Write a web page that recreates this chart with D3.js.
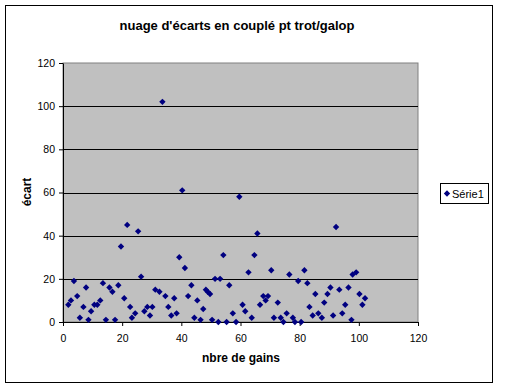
<!DOCTYPE html>
<html>
<head>
<meta charset="utf-8">
<script src="https://cdn.jsdelivr.net/npm/d3@7"></script>
<style>
  body { margin: 0; background: #fff; }
  svg text { font-family: Arial, "Liberation Sans", sans-serif; }
</style>
</head>
<body>
<div id="chart"></div>
<script>
// nbre de gains (x) and écart (y)
var gains = [1.8, 2.7, 3.7, 4.8, 5.7, 6.9, 7.8, 8.6, 9.5, 10.6, 11.6, 12.6, 13.5, 14.5, 15.7, 16.7, 17.6, 18.7, 19.6, 20.7,
             21.7, 22.7, 23.3, 24.4, 25.4, 26.4, 27.5, 28.5, 29.4, 30.2, 31.2, 32.6, 33.6, 34.6, 35.6, 36.6, 37.6, 38.4, 39.3, 40.3,
             41.2, 42.3, 43.4, 44.4, 45.4, 46.5, 47.4, 48.3, 48.9, 49.7, 50.4, 51.4, 52.5, 53.1, 54.2, 55.3, 56.2, 57.4, 58.5, 59.6,
             60.7, 61.6, 62.7, 63.8, 64.7, 65.7, 66.6, 67.7, 68.5, 69.3, 70.4, 71.3, 72.6, 73.6, 74.5, 75.6, 76.5, 77.7, 78.4, 79.5,
             80.5, 81.6, 82.6, 83.3, 84.4, 85.3, 86.3, 87.5, 88.3, 89.4, 90.4, 91.3, 92.3, 93.4, 94.4, 95.4, 96.5, 97.5, 97.9, 99.1,
             100.2, 101.2, 102.1];
var ecarts = [8, 10, 19, 12, 2, 7, 16, 1, 5, 8, 8, 10, 18, 1, 16, 14, 1, 17, 35, 11,
              45, 7, 2, 4, 42, 21, 5, 7, 3, 7, 15, 14, 102, 12, 7, 3, 11, 4, 30, 61,
              25, 12, 17, 2, 10, 1, 6, 15, 14, 13, 1, 20, 0, 20, 31, 0, 17, 4, 0, 58,
              8, 5, 23, 2, 31, 41, 8, 12, 10, 12, 24, 2, 9, 2, 0, 4, 22, 2, 0, 19,
              0, 24, 18, 7, 3, 13, 4, 2, 9, 13, 16, 3, 44, 15, 4, 8, 16, 1, 22, 23,
              13, 8, 11];
var xTicks = [0, 20, 40, 60, 80, 100, 120];
var yTicks = [0, 20, 40, 60, 80, 100, 120];
var seriesName = "Série1";

var W = 512, H = 387;
var plot = {left: 63, right: 418, top: 63, bottom: 322};

var svg = d3.select("#chart").append("svg")
    .attr("width", W)
    .attr("height", H);

// chart area
svg.append("rect")
    .attr("x", 5.5).attr("y", 5.5)
    .attr("width", 487).attr("height", 377)
    .attr("fill", "#fff")
    .attr("stroke", "#000");

var x = d3.scaleLinear().domain([0, 120]).range([plot.left, plot.right]);
var y = d3.scaleLinear().domain([0, 120]).range([plot.bottom, plot.top]);

// plot area
svg.append("rect")
    .attr("x", plot.left).attr("y", plot.top)
    .attr("width", plot.right - plot.left).attr("height", plot.bottom - plot.top)
    .attr("fill", "#c0c0c0")
    .attr("stroke", "#808080");

// gridlines
svg.append("g").selectAll("line")
    .data(yTicks.filter(function (d) { return d > 0 && d < 120; }))
    .enter().append("line")
    .attr("x1", plot.left).attr("x2", plot.right)
    .attr("y1", function (d) { return Math.round(y(d)) + 0.5; })
    .attr("y2", function (d) { return Math.round(y(d)) + 0.5; })
    .attr("stroke", "#000");

// axes
var xAxis = svg.append("g")
    .attr("transform", "translate(0," + plot.bottom + ")")
    .call(d3.axisBottom(x).tickValues(xTicks).tickSize(4).tickSizeOuter(0));
var yAxis = svg.append("g")
    .attr("transform", "translate(" + plot.left + ",0)")
    .call(d3.axisLeft(y).tickValues(yTicks).tickSize(4).tickSizeOuter(0));

[xAxis, yAxis].forEach(function (a) {
    a.select(".domain").attr("stroke", "#000");
    a.selectAll(".tick line").attr("stroke", "#000");
    a.selectAll(".tick text")
        .attr("fill", "#000")
        .style("font-size", "10.5px");
});
xAxis.selectAll(".tick text").attr("dy", "1.2em");
yAxis.selectAll(".tick text").attr("x", -8);

// points
var diamond = d3.symbol().type(d3.symbolDiamond2).size(26);
svg.append("g").selectAll("path")
    .data(gains.map(function (g, i) { return [g, ecarts[i]]; }))
    .enter().append("path")
    .attr("d", diamond)
    .attr("transform", function (d) { return "translate(" + x(d[0]) + "," + y(d[1]) + ")"; })
    .attr("fill", "#000080");

// titles
svg.append("text")
    .attr("x", 237).attr("y", 30)
    .attr("text-anchor", "middle")
    .style("font-size", "13px").style("font-weight", "bold")
    .text("nuage d'écarts en couplé pt trot/galop");

svg.append("text")
    .attr("x", 241).attr("y", 362)
    .attr("text-anchor", "middle")
    .style("font-size", "12px").style("font-weight", "bold")
    .text("nbre de gains");

svg.append("text")
    .attr("transform", "translate(31,192) rotate(-90)")
    .attr("text-anchor", "middle")
    .style("font-size", "12px").style("font-weight", "bold")
    .text("écart");

// legend
var legend = svg.append("g");
legend.append("rect")
    .attr("x", 440.5).attr("y", 183.5)
    .attr("width", 48).attr("height", 20)
    .attr("fill", "#fff")
    .attr("stroke", "#000");
legend.append("path")
    .attr("d", diamond)
    .attr("transform", "translate(447,193.5)")
    .attr("fill", "#000080");
legend.append("text")
    .attr("x", 452).attr("y", 197.5)
    .style("font-size", "11px")
    .text(seriesName);
</script>
</body>
</html>
